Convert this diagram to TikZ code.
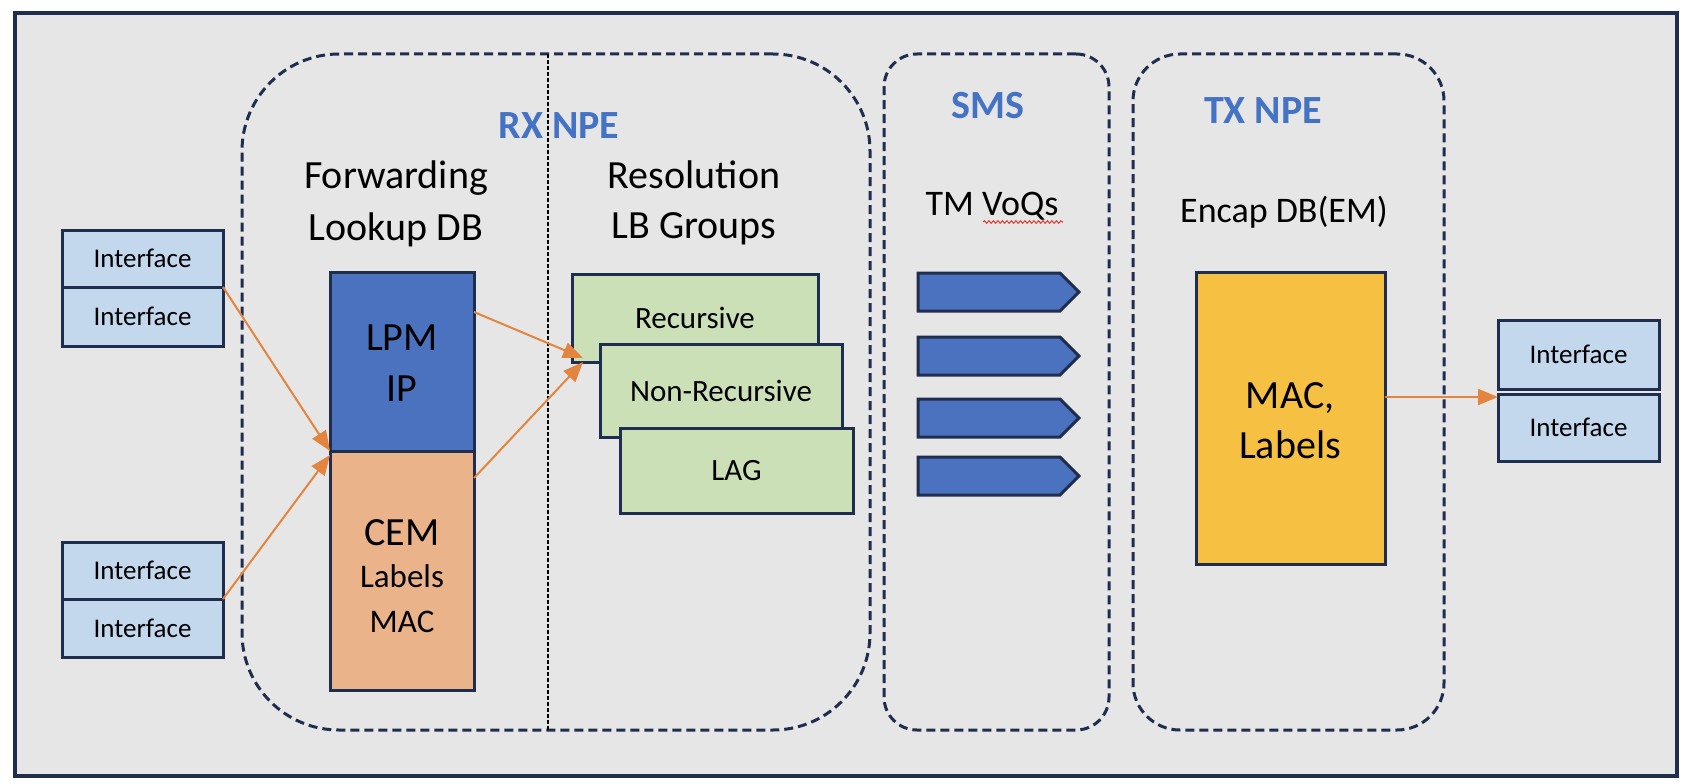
\documentclass[tikz,border=0pt]{standalone}
\usepackage{fontspec}
\setmainfont{Carlito}
\usetikzlibrary{arrows.meta,shapes.symbols,calc,decorations.pathmorphing}
\definecolor{navy}{HTML}{1F2D4E}
\definecolor{bgfill}{HTML}{E6E6E6}
\definecolor{ifcfill}{HTML}{C3D7ED}
\definecolor{lpmfill}{HTML}{4A72BE}
\definecolor{cemfill}{HTML}{EBB38A}
\definecolor{grnfill}{HTML}{CCE0B8}
\definecolor{yelfill}{HTML}{F6C142}
\definecolor{arrorange}{HTML}{E4853F}
\definecolor{titleblue}{HTML}{4472C4}
\definecolor{squigred}{HTML}{E03A2E}
\begin{document}
\begin{tikzpicture}[x=1pt,y=-1pt,
  box/.style={draw=navy, line width=3pt, inner sep=0pt, outer sep=0pt},
  frame/.style={draw=navy, line width=3.5pt, fill=bgfill, inner sep=0pt, outer sep=0pt},
  group/.style={draw=navy, line width=3pt, dash pattern=on 9pt off 5pt, inner sep=0pt, outer sep=0pt},
  divider/.style={draw=black, line width=1.5pt, dash pattern=on 4pt off 2pt},
  ifc/.style={box, fill=ifcfill, minimum width=161pt, font=\fontsize{27}{32}\selectfont},
  grn/.style={box, fill=grnfill, font=\fontsize{31}{36}\selectfont},
  voq/.style={box, fill=lpmfill, signal, signal to=east, signal pointer angle=90, minimum width=161pt, minimum height=38pt},
  title/.style={anchor=base, text=titleblue, font=\fontsize{40}{48}\selectfont\bfseries},
  head/.style={anchor=base, font=\fontsize{40}{48}\selectfont},
  subhead/.style={anchor=base, font=\fontsize{36}{44}\selectfont},
  big/.style={anchor=base, font=\fontsize{40}{48}\selectfont},
  small/.style={anchor=base, font=\fontsize{33}{40}\selectfont},
  flow/.style={draw=arrorange, line width=2pt, -{Triangle[length=20pt,width=16pt]}},
  squiggle/.style={draw=squigred, line width=1pt, decorate, decoration={snake, amplitude=1.3pt, segment length=4.5pt}}
]
\useasboundingbox (0,0) rectangle (1694,784);
% outer frame
\node[frame, minimum width=1662pt, minimum height=763pt] (frame) at (846,394.5) {};
% groups
\node[group, rounded corners=97pt, minimum width=628pt, minimum height=676pt] (rx) at (556,392) {};
\node[group, rounded corners=33pt, minimum width=225pt, minimum height=676pt] (sms) at (996.5,392) {};
\node[group, rounded corners=47pt, minimum width=311pt, minimum height=676pt] (tx) at (1288.5,392) {};
\coordinate (dtop) at ($(rx.north west)+(306,0)$);
\coordinate (dbot) at ($(rx.south west)+(306,0)$);
\draw[divider] (dtop) -- (dbot);
% titles
\node[title] (rxt) at (559,138) {RX NPE};
\node[title] (smst) at (988,118) {SMS};
\node[title] (txt) at (1263,123) {TX NPE};
\node[head] (fw1) at (396,188) {Forwarding};
\node[head] (fw2) at (396,240) {Lookup DB};
\node[head] (rs1) at (694,188) {Resolution};
\node[head] (rs2) at (694,238) {LB Groups};
\node[subhead] (tm) at (992,215) {TM VoQs};
\node[subhead] (enc) at (1284,222) {Encap DB(EM)};
\coordinate (sqa) at (983,222);
\coordinate (sqb) at (1063,222);
\draw[squiggle] (sqa) -- (sqb);
% interfaces left
\node[ifc, minimum height=57pt] (ifa1) at (142.5,258.5) {Interface};
\node[ifc, minimum height=59pt] (ifa2) at (142.5,316.5) {Interface};
\node[ifc, minimum height=57pt] (ifb1) at (142.5,570.5) {Interface};
\node[ifc, minimum height=58pt] (ifb2) at (142.5,628) {Interface};
% interfaces right
\node[ifc, minimum height=69pt] (ifr1) at (1578.5,354.5) {Interface};
\node[ifc, minimum height=67pt] (ifr2) at (1578.5,427.5) {Interface};
% lookup tables
\node[box, fill=lpmfill, minimum width=144pt, minimum height=179pt] (lpm) at (402,361.5) {};
\node[box, fill=cemfill, minimum width=144pt, minimum height=239pt] (cem) at (402,570.5) {};
\node[big] (lpmt1) at (402,350) {LPM};
\node[big] (lpmt2) at (402,401) {IP};
\node[big] (cemt1) at (402,545) {CEM};
\node[small] (cemt2) at (402,587) {Labels};
\node[small] (cemt3) at (402,632) {MAC};
% resolution groups
\node[grn, minimum width=246pt, minimum height=88pt] (rec) at (695,318) {Recursive};
\node[grn, minimum width=242pt, minimum height=93pt] (nrec) at (721,390.5) {Non-Recursive};
\node[grn, minimum width=233pt, minimum height=85pt] (lag) at (736.5,470.5) {LAG};
% VoQs
\node[voq] (q1) at (989,292) {};
\node[voq] (q2) at (989,356) {};
\node[voq] (q3) at (989,418) {};
\node[voq] (q4) at (989,476) {};
% encap
\node[box, fill=yelfill, minimum width=189pt, minimum height=292pt] (mac) at (1290.5,418) {};
\node[big] (mact1) at (1290,408) {MAC,};
\node[big] (mact2) at (1290,458) {Labels};
% flows
\draw[flow] (ifa1.south east) -- (lpm.south west);
\draw[flow] (ifb1.south east) -- ($(cem.north west)+(0,4)$);
\draw[flow] ($(lpm.north east)+(0,40)$) -- ($(rec.south west)+(11,-4)$);
\draw[flow] ($(cem.north east)+(0,27)$) -- ($(rec.south west)+(11,0)$);
\coordinate (macend) at ($(ifr2.north west)+(0,3)$);
\draw[flow] (mac.east |- macend) -- (macend);
\end{tikzpicture}
\end{document}
